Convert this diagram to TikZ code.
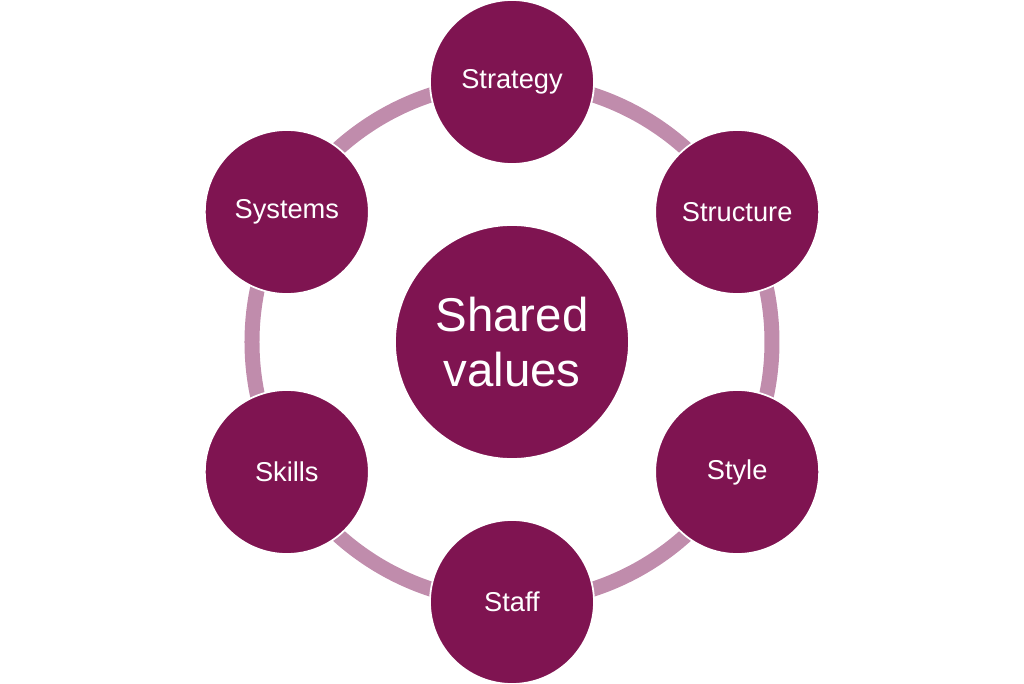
\documentclass[tikz,border=0pt]{standalone}
\usepackage{fontspec}
\setmainfont{Liberation Sans}
\definecolor{plum}{HTML}{7F1451}
\definecolor{ringpink}{HTML}{C08CAC}
\begin{document}
\begin{tikzpicture}[every node/.style={text=white}, spoke/.style={draw=white, fill=plum, circle, line width=1pt, minimum size=3.28cm, inner sep=0pt, font=\fontsize{15.5}{17}\selectfont}, hub/.style={draw=white, fill=plum, circle, line width=1pt, minimum size=4.68cm, align=center, font=\fontsize{27}{31}\selectfont}]
    % Canvas
    \useasboundingbox (-10.24,-6.84) rectangle (10.24,6.84);

    % Ring behind the circles
    \draw[ringpink, line width=0.3cm] (0,0) circle (5.2);

    % Nodes placement
    \node [hub] (shared) at (0,0) {Shared\\values};
    \node [spoke] (strategy) at (90:5.2) {Strategy};
    \node [spoke] (structure) at (30:5.2) {Structure};
    \node [spoke] (style) at (-30:5.2) {Style};
    \node [spoke] (staff) at (-90:5.2) {Staff};
    \node [spoke] (skills) at (-150:5.2) {Skills};
    \node [spoke] (systems) at (150:5.2) {Systems};
\end{tikzpicture}
\end{document}
